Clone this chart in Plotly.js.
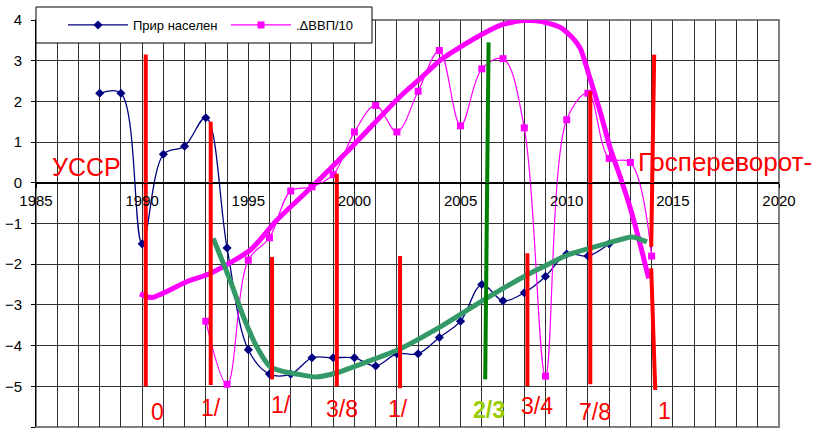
<!DOCTYPE html>
<html>
<head>
<meta charset="utf-8">
<script src="https://cdn.plot.ly/plotly-3.0.1.min.js"></script>
<style>html,body{margin:0;padding:0;background:#fff;}#chart{width:819px;height:434px;}</style>
</head>
<body>
<div id="chart"></div>
<script>
// Natural population growth
const popYears = [1988,1989,1990,1991,1992,1993,1994,1995,1996,1997,1998,1999,2000,2001,2002,2003,2004,2005,2006,2007,2008,2009,2010,2011,2012];
const popValues = [2.2,2.2,-1.5,0.7,0.9,1.6,-1.6,-4.1,-4.7,-4.7,-4.3,-4.3,-4.3,-4.5,-4.2,-4.2,-3.8,-3.4,-2.5,-2.9,-2.7,-2.3,-1.75,-1.8,-1.5];

// GDP change / 10
const gdpYears = [1993,1994,1995,1996,1997,1998,1999,2000,2001,2002,2003,2004,2005,2006,2007,2008,2009,2010,2011,2012,2013,2014];
const gdpValues = [-3.4,-4.95,-1.9,-1.35,-0.2,-0.1,0.2,1.25,1.9,1.25,2.25,3.25,1.4,2.8,3.05,1.35,-4.75,1.55,2.2,0.6,0.5,-1.8];

// Hand-drawn trend of GDP (thick magenta)
const gdpTrendX = [1989.9,1990.45,1992.1,1993.2,1995.1,1996.34,1998.07,2000.0,2002.15,2003.1,2004.04,2005.0,2006.08,2006.87,2007.8,2008.75,2009.7,2010.3,2010.64,2011.1,2011.58,2012.05,2012.52,2013.0,2013.47,2013.86];
const gdpTrendY = [-2.73,-2.82,-2.43,-2.23,-1.65,-0.92,-0.06,0.95,2.12,2.56,3.01,3.34,3.67,3.87,3.98,3.97,3.82,3.55,3.30,2.56,1.74,0.85,0.15,-0.63,-1.53,-2.35];

// Hand-drawn trend of population (thick green)
const popTrendX = [1993.35,1994.14,1994.77,1995.4,1996.03,1996.66,1997.29,1998.2,1999.1,2000.58,2002.03,2004.04,2006.08,2008.1,2009.07,2010.0,2011.9,2013.07,2013.78];
const popTrendY = [-1.37,-2.39,-3.29,-4.03,-4.52,-4.64,-4.70,-4.77,-4.68,-4.4,-4.11,-3.54,-2.88,-2.27,-2.02,-1.78,-1.49,-1.33,-1.45];

// Red event markers (vertical strokes)
const redXTop    = [1990.17,1993.23,1996.12,1999.17,2002.15,2008.15,2011.11,2014.12,2013.98];
const redXBottom = [1990.17,1993.23,1996.12,1999.17,2002.15,2008.15,2011.11,2013.98,2014.17];
const redTop     = [3.15,1.5,-1.82,0.22,-1.8,-1.73,2.25,3.15,-2.1];
const redBottom  = [-5.0,-4.97,-4.83,-5.0,-5.05,-4.99,-4.95,-1.57,-5.09];

// Green event marker
const greenXTop = [2006.32], greenXBottom = [2006.16], greenTop = [3.45], greenBottom = [-4.83];

// Labels
const bottomLabels = ["0","1/","1/","3/8","1/","<b>2/3</b>","3/4","7/8","1"];
const bottomLabelX = [1990.73,1993.24,1996.52,1999.42,2002.05,2006.34,2008.60,2011.33,2014.61];
const bottomLabelY = [-5.62,-5.54,-5.46,-5.56,-5.55,-5.57,-5.49,-5.64,-5.60];
const bottomLabelColor = ["#ff0000","#ff0000","#ff0000","#ff0000","#ff0000","#99cc00","#ff0000","#ff0000","#ff0000"];

const xTickVals = [1985,1990,1995,2000,2005,2010,2015,2020];

function strokes(xt, xb, yt, yb) {
  const x = [], y = [];
  for (let i = 0; i < xt.length; i++) { x.push(xt[i], xb[i], null); y.push(yt[i], yb[i], null); }
  return {x, y};
}
const red = strokes(redXTop, redXBottom, redTop, redBottom);
const grn = strokes(greenXTop, greenXBottom, greenTop, greenBottom);

const FONT = 'Arial, "Liberation Sans", sans-serif';

const traces = [
  {x: popYears, y: popValues, name: 'Прир населен', type: 'scatter', mode: 'lines+markers',
   line: {color: '#000080', width: 1.3, shape: 'spline', smoothing: 1},
   marker: {symbol: 'diamond', size: 7, color: '#000080'}},
  {x: gdpYears, y: gdpValues, name: '.ΔВВП/10', type: 'scatter', mode: 'lines+markers',
   line: {color: '#ff00ff', width: 1.2, shape: 'spline', smoothing: 1},
   marker: {symbol: 'square', size: 7, color: '#ff00ff'}},
  {x: gdpTrendX, y: gdpTrendY, type: 'scatter', mode: 'lines', showlegend: false, hoverinfo: 'skip',
   line: {color: '#ff00ff', width: 5, shape: 'spline', smoothing: 0.6}},
  {x: popTrendX, y: popTrendY, type: 'scatter', mode: 'lines', showlegend: false, hoverinfo: 'skip',
   line: {color: '#339966', width: 5, shape: 'spline', smoothing: 0.6}},
  {x: red.x, y: red.y, type: 'scatter', mode: 'lines', showlegend: false, hoverinfo: 'skip',
   line: {color: '#ff0000', width: 4}},
  {x: grn.x, y: grn.y, type: 'scatter', mode: 'lines', showlegend: false, hoverinfo: 'skip',
   line: {color: '#008000', width: 4}}
];

const annotations = [
  {x: 1985.66, y: 0.39, xref: 'x', yref: 'y', text: 'УССР', showarrow: false, xanchor: 'left', yanchor: 'middle',
   font: {family: FONT, size: 25, color: '#ff0000'}},
  {x: 2013.28, y: 0.52, xref: 'x', yref: 'y', text: 'Госпереворот-', showarrow: false, xanchor: 'left', yanchor: 'middle',
   font: {family: FONT, size: 26, color: '#ff0000'}}
];
for (let i = 0; i < bottomLabels.length; i++) {
  annotations.push({x: bottomLabelX[i], y: bottomLabelY[i], xref: 'x', yref: 'y', text: bottomLabels[i],
    showarrow: false, xanchor: 'center', yanchor: 'middle',
    font: {family: FONT, size: 23, color: bottomLabelColor[i]}});
}

const layout = {
  width: 819, height: 434,
  margin: {l: 36, r: 40, t: 20, b: 7, pad: 0},
  paper_bgcolor: '#ffffff', plot_bgcolor: '#ffffff',
  font: {family: FONT, color: '#000'},
  showlegend: true,
  legend: {orientation: 'h', x: 27 / 743, y: (427 - 25) / 407, xanchor: 'left', yanchor: 'middle',
    bgcolor: 'rgba(0,0,0,0)', borderwidth: 0,
    entrywidth: 88, entrywidthmode: 'pixels', itemwidth: 60,
    font: {family: FONT, size: 13, color: '#000'}},
  xaxis: {range: [1985, 2020], anchor: 'free', position: 0.6,
    tickvals: xTickVals, ticktext: xTickVals.map(String),
    showgrid: true, gridcolor: '#303030', gridwidth: 1,
    minor: {dtick: 1, tick0: 1985, showgrid: true, gridcolor: '#303030', gridwidth: 1},
    showline: true, linecolor: '#000', linewidth: 1,
    ticks: 'outside', ticklen: 4, tickcolor: '#000', ticklabelstandoff: 0,
    zeroline: false, tickfont: {family: FONT, size: 15, color: '#000'}},
  yaxis: {range: [-6, 4], dtick: 1, tick0: 0,
    showgrid: true, gridcolor: '#303030', gridwidth: 1,
    showline: true, linecolor: '#000', linewidth: 1,
    ticks: 'outside', ticklen: 4, tickcolor: '#000', ticklabelstandoff: 6,
    zeroline: true, zerolinecolor: '#000', zerolinewidth: 1,
    tickfont: {family: FONT, size: 15, color: '#000'}},
  shapes: [
    {type: 'rect', xref: 'paper', yref: 'paper', x0: 0, x1: 1, y0: 0, y1: 1, layer: 'below',
     line: {color: '#808080', width: 2}},
    {type: 'rect', xref: 'paper', yref: 'paper', x0: 0, x1: (372 - 36) / 743,
     y0: (427 - 43) / 407, y1: (427 - 7) / 407, layer: 'above',
     fillcolor: '#ffffff', line: {color: '#000000', width: 1}}
  ],
  annotations: annotations
};

Plotly.newPlot('chart', traces, layout, {displayModeBar: false, staticPlot: true});
</script>
</body>
</html>
